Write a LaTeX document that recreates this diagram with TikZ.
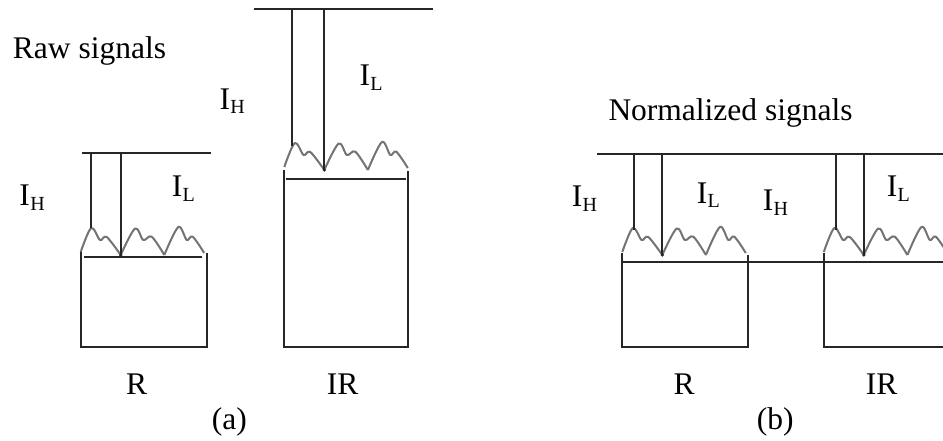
\documentclass[tikz,border=0pt]{standalone}
\usepackage{fontspec}
\setmainfont{Liberation Serif}
\newcommand\Isub[1]{I\kern0.3pt\raisebox{-4.5pt}{\fontsize{20}{20}\selectfont #1}}
\begin{document}
\begin{tikzpicture}[x=1pt,y=-1pt,
  ln/.style={draw=black!85,line width=2pt},
  wv/.style={draw=black!55,line width=2pt,line join=round},
  lbl/.style={anchor=base west,inner sep=0pt,font=\fontsize{31.5}{36}\selectfont},
  wave/.pic={\draw[wv] plot[smooth,tension=0.55] coordinates {(0,-3) (10.5,-27) (19.3,-15) (26,-18) (40,0)};
             \draw[wv] plot[smooth,tension=0.55] coordinates {(40,0) (54.3,-26.5) (62.6,-15) (71,-18.3) (83.6,0)};
             \draw[wv] plot[smooth,tension=0.55] coordinates {(83.6,0) (97.6,-28) (106,-15) (112,-18.3) (123.5,-2)};
             \fill[black!85] (40,0) circle (1.8pt);}
]
\clip (0,0) rectangle (943,441);
\fill[white] (0,0) rectangle (943,441);

% ---------- (a) R ----------
\pic at (80.7,255) {wave};
\draw[ln] (82,153) -- (211,153);
\draw[ln] (90.7,153) -- (90.7,228);
\draw[ln] (120.7,153) -- (120.7,255);
\draw[ln] (80.7,252) -- (80.7,347) -- (206.7,347) -- (206.7,253);
\draw[ln] (84,257) -- (202,257);

% ---------- (a) IR ----------
\pic at (284.3,170) {wave};
\draw[ln] (254,9.3) -- (432.7,9.3);
\draw[ln] (292.3,9.3) -- (292.3,146);
\draw[ln] (324,9.3) -- (324,170);
\draw[ln] (284.3,170) -- (284.3,347) -- (408,347) -- (408,170.7);
\draw[ln] (285.7,179) -- (405.7,179);

% ---------- (b) ----------
\pic at (622.3,255) {wave};
\pic at (823.8,255) {wave};
\draw[ln] (597.3,154.3) -- (943,154.3);
\draw[ln] (634.3,154.3) -- (634.3,230);
\draw[ln] (662.3,154.3) -- (662.3,255);
\draw[ln] (836,154.3) -- (836,230);
\draw[ln] (864,154.3) -- (864,255);
\draw[ln] (622.3,253.3) -- (622.3,346.7) -- (748.3,346.7) -- (748.3,255);
\draw[ln] (622.3,261.7) -- (943,261.7);
\draw[ln] (823.8,253) -- (823.8,346.7) -- (943,346.7);

% ---------- labels ----------
\node[lbl] (raw) at (12.7,58.3) {Raw signals};
\node[lbl] (ihaR) at (19.3,206) {\Isub{H}};
\node[lbl] (ilaR) at (171.7,196.7) {\Isub{L}};
\node[lbl] (ihaIR) at (219.3,109.3) {\Isub{H}};
\node[lbl] (ilaIR) at (359.3,86) {\Isub{L}};
\node[lbl] (raR) at (126,394) {R};
\node[lbl] (iraIR) at (326.7,394) {IR};
\node[lbl] (capa) at (211.7,429) {(a)};

\node[lbl] (norm) at (608.3,120.7) {Normalized signals};
\node[lbl] (ihbR) at (571.7,206.7) {\Isub{H}};
\node[lbl] (ilbR) at (696.7,203.3) {\Isub{L}};
\node[lbl] (ihbIR) at (762.7,210.7) {\Isub{H}};
\node[lbl] (ilbIR) at (886.7,196.7) {\Isub{L}};
\node[lbl] (rbR) at (673.3,394) {R};
\node[lbl] (irbIR) at (865.7,394) {IR};
\node[lbl] (capb) at (756.7,429) {(b)};
\end{tikzpicture}
\end{document}
